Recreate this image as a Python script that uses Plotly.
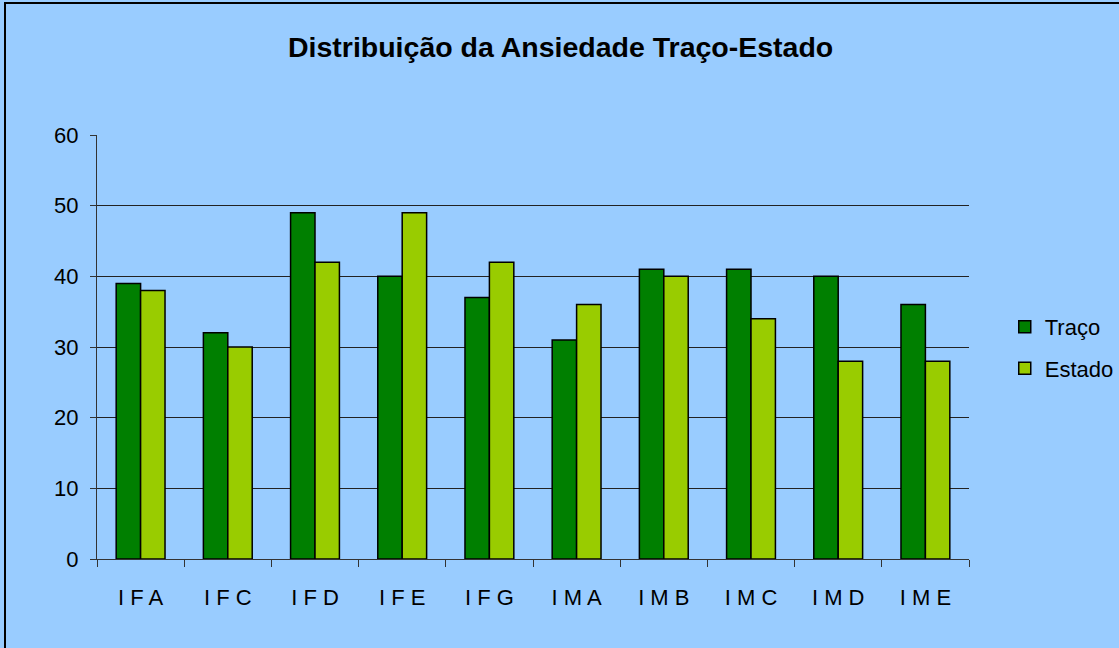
import plotly.graph_objects as go

categories = ["I F A", "I F C", "I F D", "I F E", "I F G", "I M A", "I M B", "I M C", "I M D", "I M E"]
traco = [39, 32, 49, 40, 37, 31, 41, 41, 40, 36]
estado = [38, 30, 42, 49, 42, 36, 40, 34, 28, 28]
y_ticks = [0, 10, 20, 30, 40, 50, 60]

BG = "#99CCFF"
FONT = "Liberation Sans, Arial, sans-serif"

fig = go.Figure()
fig.add_trace(go.Bar(x=categories, y=traco, name="Traço", legendgroup="a",
                     marker=dict(color="#007F00", line=dict(color="black", width=1.5))))
fig.add_trace(go.Bar(x=categories, y=estado, name="Estado", legendgroup="b",
                     marker=dict(color="#99CC00", line=dict(color="black", width=1.5))))

fig.update_layout(
    width=1119, height=648,
    paper_bgcolor=BG, plot_bgcolor=BG,
    margin=dict(l=97, r=150, t=135, b=89, autoexpand=False),
    barmode="group", bargap=0.44, bargroupgap=0,
    font=dict(family=FONT, size=22, color="black"),
    title=dict(text="<b>Distribuição da Ansiedade Traço-Estado</b>",
               x=0.501, xref="container", xanchor="center",
               y=1 - 47 / 648, yref="container", yanchor="middle",
               font=dict(family=FONT, size=28.5, color="black")),
    legend=dict(x=1.041, xanchor="left", y=0.498, yanchor="middle",
                bgcolor="rgba(0,0,0,0)", font=dict(size=22),
                tracegroupgap=10),
    showlegend=True,
    xaxis=dict(type="category", showline=True, linecolor="#333333", linewidth=1,
               ticks="outside", ticklen=7, tickcolor="#333333", tickson="boundaries",
               ticklabelstandoff=19, showgrid=False,
               tickfont=dict(size=22)),
    yaxis=dict(range=[0, 60], tickvals=y_ticks, showline=True, linecolor="#333333",
               linewidth=1, ticks="outside", ticklen=6, tickcolor="#333333",
               showgrid=True, gridcolor="#222222", gridwidth=1,
               ticklabelstandoff=7, zeroline=False,
               tickfont=dict(size=22)),
)

fig.add_shape(type="rect", xref="paper", yref="paper",
              x0=(5 - 97) / 872, x1=1.4, y0=-0.5, y1=(559 - 3) / 424,
              line=dict(color="black", width=2), fillcolor="rgba(0,0,0,0)", layer="above")

fig.write_html("out.html", config={"displayModeBar": False},
               post_script="document.body.style.margin='0';document.body.style.background='#99CCFF';")
